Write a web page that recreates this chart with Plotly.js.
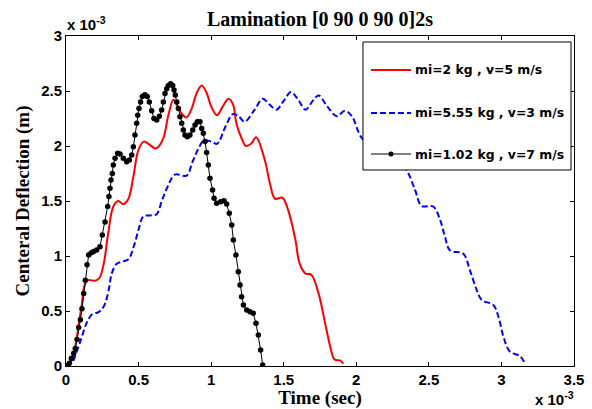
<!DOCTYPE html>
<html>
<head>
<meta charset="utf-8">
<script src="https://cdn.plot.ly/plotly-3.0.1.min.js"></script>
<style>html,body{margin:0;padding:0;background:#fff;}#chart{width:592px;height:409px;}</style>
</head>
<body>
<div id="chart"></div>
<script>
// Time in units of 1e-3 s, deflection in units of 1e-3 m
const redT = [0, 0.03, 0.064, 0.09, 0.11, 0.125, 0.15, 0.2, 0.23, 0.26, 0.29, 0.326, 0.36, 0.395, 0.43, 0.464, 0.498, 0.535, 0.567, 0.61, 0.625, 0.67, 0.705, 0.74, 0.765, 0.8, 0.83, 0.866, 0.9, 0.935, 0.97, 1.0, 1.04, 1.08, 1.12, 1.15, 1.175, 1.21, 1.24, 1.275, 1.31, 1.37, 1.405, 1.44, 1.49, 1.53, 1.58, 1.61, 1.65, 1.69, 1.74, 1.785, 1.82, 1.85, 1.89, 1.91];
const redD = [0, 0.03, 0.18, 0.4, 0.57, 0.72, 0.78, 0.775, 0.8, 0.93, 1.2, 1.45, 1.5, 1.47, 1.52, 1.72, 1.96, 2.04, 2.02, 1.98, 1.98, 2.07, 2.28, 2.42, 2.37, 2.29, 2.26, 2.34, 2.48, 2.55, 2.48, 2.36, 2.28, 2.36, 2.43, 2.38, 2.2, 2.07, 2.0, 2.02, 2.08, 1.87, 1.66, 1.52, 1.53, 1.42, 1.15, 0.93, 0.84, 0.83, 0.66, 0.39, 0.18, 0.06, 0.05, 0.02];

const blueT = [0, 0.04, 0.087, 0.11, 0.145, 0.18, 0.225, 0.26, 0.294, 0.315, 0.35, 0.39, 0.43, 0.47, 0.5, 0.533, 0.59, 0.625, 0.66, 0.7, 0.75, 0.83, 0.87, 0.91, 0.95, 1.0, 1.04, 1.1, 1.15, 1.19, 1.23, 1.3, 1.355, 1.4, 1.45, 1.5, 1.55, 1.6, 1.65, 1.7, 1.74, 1.8, 1.865, 1.922, 1.97, 2.04, 2.15, 2.25, 2.347, 2.405, 2.45, 2.53, 2.577, 2.611, 2.646, 2.737, 2.783, 2.83, 2.864, 2.944, 2.979, 3.013, 3.059, 3.128, 3.163];
const blueD = [0, 0.03, 0.18, 0.27, 0.4, 0.47, 0.49, 0.54, 0.69, 0.84, 0.93, 0.95, 0.97, 1.1, 1.24, 1.36, 1.37, 1.38, 1.5, 1.63, 1.74, 1.73, 1.85, 1.97, 2.05, 2.04, 2.02, 2.18, 2.29, 2.27, 2.22, 2.33, 2.43, 2.38, 2.33, 2.41, 2.49, 2.42, 2.33, 2.41, 2.46, 2.36, 2.27, 2.32, 2.27, 2.07, 1.98, 1.93, 1.78, 1.6, 1.455, 1.45, 1.33, 1.175, 1.05, 1.02, 0.87, 0.69, 0.6, 0.555, 0.45, 0.27, 0.13, 0.09, 0.02];

const blackT = [0, 0.007, 0.023, 0.037, 0.053, 0.064, 0.076, 0.087, 0.099, 0.11, 0.122, 0.133, 0.145, 0.156, 0.174, 0.19, 0.211, 0.234, 0.25, 0.269, 0.287, 0.296, 0.303, 0.31, 0.319, 0.326, 0.338, 0.356, 0.372, 0.395, 0.418, 0.436, 0.453, 0.464, 0.475, 0.487, 0.494, 0.503, 0.514, 0.526, 0.544, 0.56, 0.574, 0.59, 0.606, 0.625, 0.643, 0.659, 0.671, 0.682, 0.694, 0.705, 0.721, 0.735, 0.744, 0.753, 0.763, 0.774, 0.785, 0.797, 0.808, 0.82, 0.836, 0.854, 0.873, 0.889, 0.905, 0.923, 0.935, 0.946, 0.958, 0.969, 0.981, 0.992, 1.01, 1.02, 1.038, 1.066, 1.089, 1.107, 1.125, 1.142, 1.153, 1.171, 1.187, 1.199, 1.21, 1.222, 1.245, 1.268, 1.29, 1.309, 1.325, 1.341, 1.355];
const blackD = [0, 0, 0.024, 0.07, 0.115, 0.16, 0.24, 0.35, 0.42, 0.52, 0.66, 0.78, 0.92, 1.01, 1.03, 1.04, 1.055, 1.085, 1.19, 1.31, 1.45, 1.54, 1.615, 1.69, 1.75, 1.827, 1.888, 1.933, 1.927, 1.888, 1.857, 1.873, 1.918, 1.994, 2.1, 2.206, 2.28, 2.34, 2.4, 2.45, 2.465, 2.45, 2.4, 2.32, 2.25, 2.236, 2.27, 2.327, 2.4, 2.478, 2.52, 2.55, 2.567, 2.55, 2.51, 2.464, 2.4, 2.34, 2.267, 2.206, 2.145, 2.1, 2.085, 2.1, 2.145, 2.19, 2.22, 2.22, 2.16, 2.115, 2.04, 1.94, 1.827, 1.706, 1.6, 1.524, 1.479, 1.494, 1.503, 1.473, 1.388, 1.282, 1.145, 1.009, 0.857, 0.736, 0.63, 0.555, 0.509, 0.494, 0.479, 0.388, 0.282, 0.145, 0.009];

const seriesNames = ['mi=2 kg , v=5 m/s', 'mi=5.55 kg , v=3 m/s', 'mi=1.02 kg , v=7 m/s'];
const xTicks = [0, 0.5, 1, 1.5, 2, 2.5, 3, 3.5];
const xTickText = ['0', '0.5', '1', '1.5', '2', '2.5', '3', '3.5'];
const yTicks = [0, 0.5, 1, 1.5, 2, 2.5, 3];
const yTickText = ['0', '0.5', '1', '1.5', '2', '2.5', '3'];

const seriesColors = ['#ff0000', '#0000ff', '#000000'];

const traces = [
  {x: redT, y: redD, name: seriesNames[0], mode: 'lines',
   line: {color: seriesColors[0], width: 2, shape: 'spline', smoothing: 1}},
  {x: blueT, y: blueD, name: seriesNames[1], mode: 'lines',
   line: {color: seriesColors[1], width: 2, dash: '6px,3px', shape: 'spline', smoothing: 1}},
  {x: blackT, y: blackD, name: seriesNames[2], mode: 'lines+markers',
   line: {color: seriesColors[2], width: 1}, marker: {color: seriesColors[2], size: 5.5}}
];

const tickFont = {family: 'Liberation Sans, Arial, sans-serif', size: 15, color: '#000', weight: 'bold'};
const serifFam = 'Liberation Serif, Times New Roman, serif';
const legFont = {family: 'DejaVu Sans, sans-serif', size: 12.4, color: '#000', weight: 'bold'};

// Legend geometry (paper coordinates)
const legX0 = 0.5846, legX1 = 0.9941, legY0 = 0.5939, legY1 = 0.9818;
const rowY = [0.897, 0.7667, 0.6424];
const sampX0 = 0.6004, sampX1 = 0.6791, textX = 0.684;

const shapes = [
  {type: 'rect', xref: 'paper', yref: 'paper', x0: legX0, x1: legX1, y0: legY0, y1: legY1,
   fillcolor: '#ffffff', line: {color: '#000', width: 1}, layer: 'above'},
  {type: 'line', xref: 'paper', yref: 'paper', x0: sampX0, x1: sampX1, y0: rowY[0], y1: rowY[0],
   line: {color: seriesColors[0], width: 2}, layer: 'above'},
  {type: 'line', xref: 'paper', yref: 'paper', x0: sampX0, x1: sampX1, y0: rowY[1], y1: rowY[1],
   line: {color: seriesColors[1], width: 2, dash: '6px,3px'}, layer: 'above'},
  {type: 'line', xref: 'paper', yref: 'paper', x0: sampX0, x1: sampX1, y0: rowY[2], y1: rowY[2],
   line: {color: '#555555', width: 1.5}, layer: 'above'},
  {type: 'circle', xref: 'paper', yref: 'paper', xsizemode: 'pixel', ysizemode: 'pixel',
   xanchor: (sampX0 + sampX1) / 2, yanchor: rowY[2], x0: -2.5, x1: 2.5, y0: -2.5, y1: 2.5,
   fillcolor: '#000', line: {color: '#000', width: 0}, layer: 'above'}
];

const annotations = [
  {text: '<b>x 10<sup>-3</sup></b>', xref: 'paper', yref: 'paper', x: 0.0, y: 1.0, xanchor: 'left', yanchor: 'bottom', showarrow: false, font: tickFont, xshift: -1, yshift: 1},
  {text: '<b>x 10<sup>-3</sup></b>', xref: 'paper', yref: 'paper', x: 1.0, y: 0, xanchor: 'right', yanchor: 'top', showarrow: false, font: tickFont, yshift: -21, xshift: 2}
];
for (let i = 0; i < 3; i++) {
  annotations.push({text: '<b>' + seriesNames[i] + '</b>', xref: 'paper', yref: 'paper', x: textX, y: rowY[i],
    xanchor: 'left', yanchor: 'middle', showarrow: false, font: legFont});
}

const layout = {
  width: 592, height: 409,
  margin: {l: 66, r: 18, t: 36, b: 43},
  paper_bgcolor: '#fff', plot_bgcolor: '#fff',
  showlegend: false,
  title: {text: '<b>Lamination [0 90 0 90 0]2s</b>', font: {family: serifFam, size: 20, color: '#000'},
          x: 0.5, xref: 'paper', xanchor: 'center', y: 0.953, yref: 'container', yanchor: 'middle'},
  xaxis: {
    range: [0, 3.5], tickvals: xTicks, ticktext: xTickText.map(t => '<b>' + t + '</b>'),
    showgrid: false, zeroline: false, showline: true, linecolor: '#000', linewidth: 1,
    mirror: 'allticks', ticks: 'inside', ticklen: 4, tickcolor: '#000',
    tickfont: tickFont,
    title: {text: '<b>Time (sec)</b>', font: {family: serifFam, size: 19, color: '#000'}, standoff: 3}
  },
  yaxis: {
    range: [0, 3], tickvals: yTicks, ticktext: yTickText.map(t => '<b>' + t + '</b>'),
    showgrid: false, zeroline: false, showline: true, linecolor: '#000', linewidth: 1,
    mirror: 'allticks', ticks: 'inside', ticklen: 4, tickcolor: '#000',
    tickfont: tickFont,
    title: {text: '<b>Centeral Deflection (m)</b>', font: {family: serifFam, size: 19, color: '#000'}, standoff: 6}
  },
  shapes: shapes,
  annotations: annotations
};

Plotly.newPlot('chart', traces, layout, {displayModeBar: false, staticPlot: true});
</script>
</body>
</html>
